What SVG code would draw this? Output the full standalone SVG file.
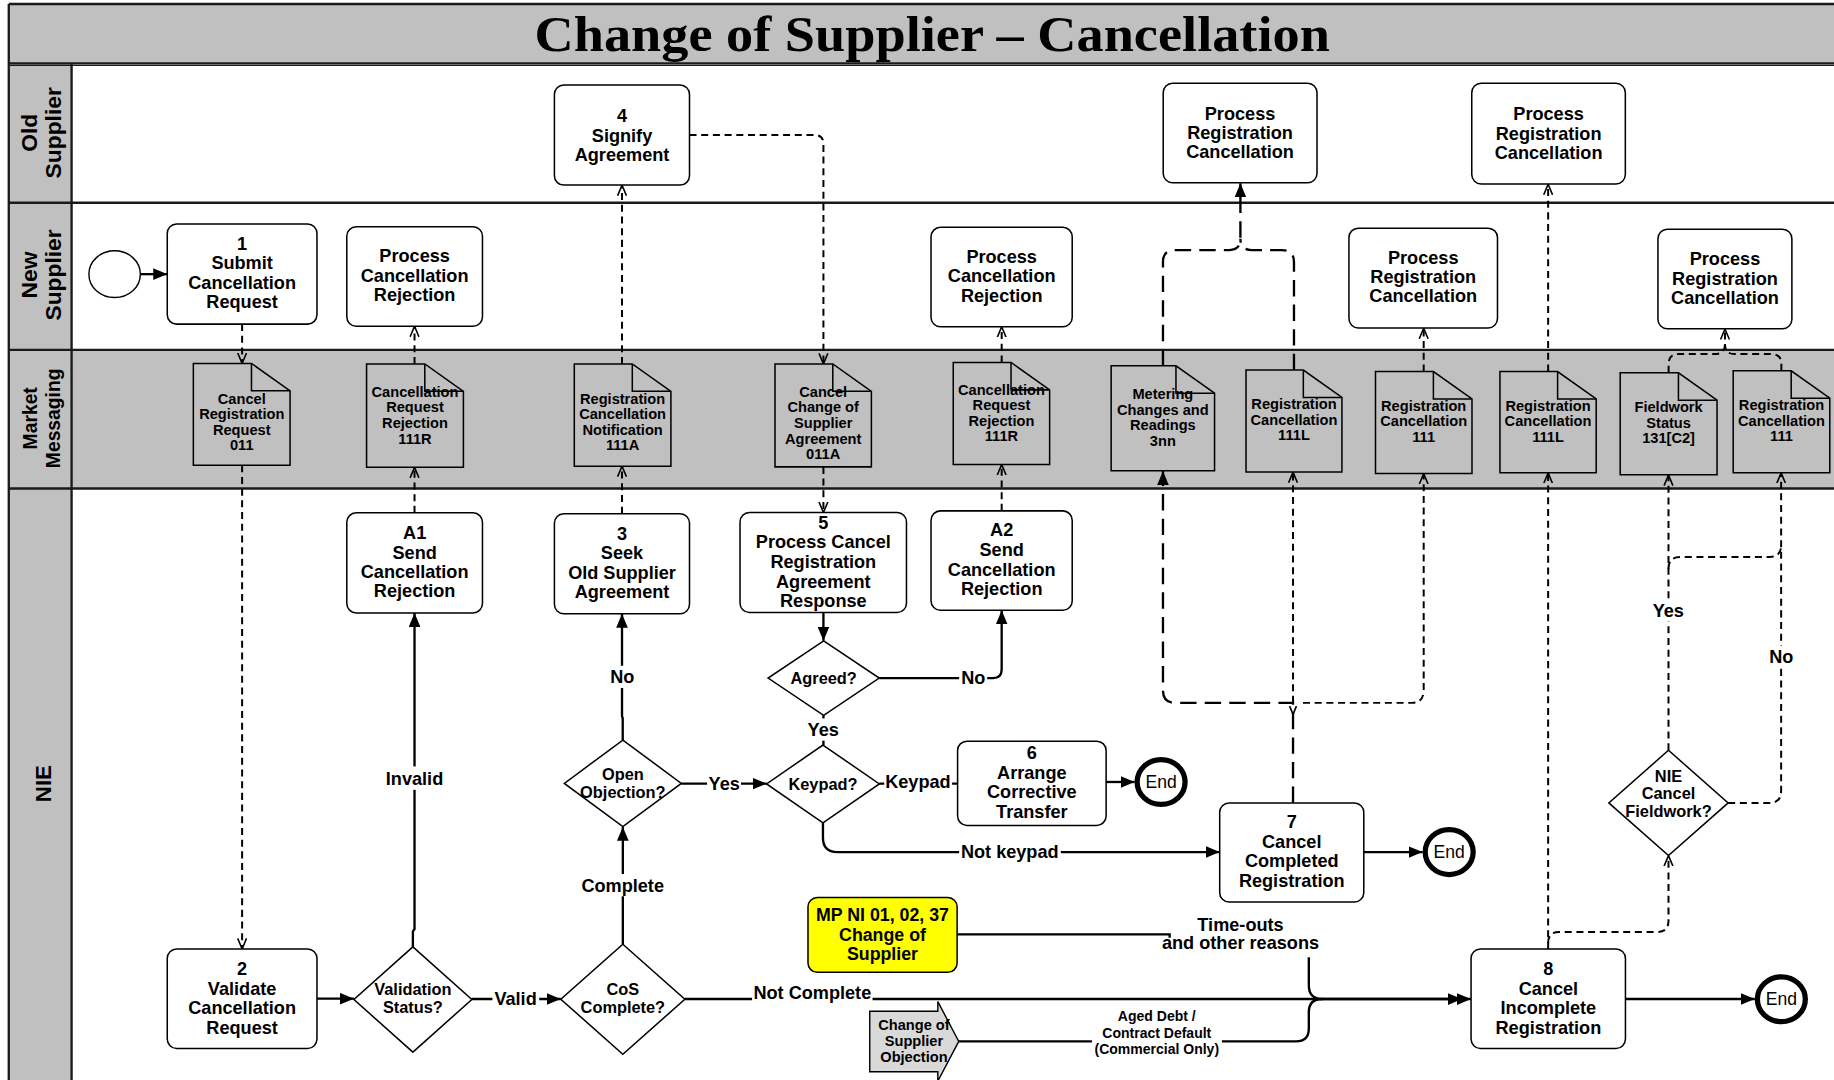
<svg xmlns="http://www.w3.org/2000/svg" width="1834" height="1080" viewBox="0 0 1834 1080">
<defs>
<style>
.tx{font-family:"Liberation Sans",Arial,Helvetica,sans-serif;font-weight:bold;text-anchor:middle;fill:#000}
.f15{font-size:15.5px}
.f14{font-size:14px}
.f12{font-size:12.5px}
.f12b{font-size:12px}
.box{fill:#fff;stroke:#000;stroke-width:1.3}
.doc{fill:#c0c0c0;stroke:#000;stroke-width:1.3}
.fold{fill:none;stroke:#000;stroke-width:1.3}
.dia{fill:#fff;stroke:#000;stroke-width:1.3}
.endc{fill:#fff;stroke:#000;stroke-width:4.5}
.endt{font-family:"Liberation Sans",Arial,sans-serif;font-size:15px;text-anchor:middle;fill:#000}
.sol{fill:none;stroke:#000;stroke-width:2}
.dsh{fill:none;stroke:#000;stroke-width:1.7;stroke-dasharray:6 4}
.ldsh{fill:none;stroke:#000;stroke-width:2;stroke-dasharray:14 7}
.lane{fill:none;stroke:#1a1a1a;stroke-width:2}
.lbg{fill:#fff}
.grey{fill:#c0c0c0}
.ll{font-family:"Liberation Sans",Arial,sans-serif;font-weight:bold;font-size:19.5px;text-anchor:middle;fill:#000}
</style>
<marker id="af" viewBox="0 0 12 10" refX="12" refY="5" markerWidth="12" markerHeight="10" markerUnits="userSpaceOnUse" orient="auto"><path d="M0,0 L12,5 L0,10 Z" fill="#000"/></marker>
<marker id="ao" viewBox="0 0 10 10" refX="10" refY="5" markerWidth="9" markerHeight="9" markerUnits="userSpaceOnUse" orient="auto"><path d="M0,0.8 L10,5 L0,9.2" fill="none" stroke="#000" stroke-width="1.5" stroke-dasharray="none"/></marker>
</defs>
<rect x="0" y="0" width="1834" height="1080" fill="#fff"/>
<g transform="scale(1.16964,1.1701)">
<!-- lanes -->
<g id="lanes">
<rect class="grey" x="7.5" y="3.4" width="1570" height="50.8"/>
<rect class="grey" x="7.5" y="54.2" width="53.7" height="880"/>
<rect class="grey" x="61.2" y="299" width="1520" height="118.5"/>
<path class="lane" d="M7.5,3.4 L1575,3.4 M7.5,54.2 L1575,54.2 M7.5,173.3 L1575,173.3 M7.5,299 L1575,299 M7.5,417.5 L1575,417.5 M7.5,3.4 L7.5,930 M61.2,54.2 L61.2,930"/>
<path d="M7.5,55.8 L1575,55.8" stroke="#1a1a1a" stroke-width="1"/>
<text x="797" y="43.5" font-family="'Liberation Serif','Times New Roman',serif" font-weight="bold" font-size="43" text-anchor="middle" textLength="680" lengthAdjust="spacingAndGlyphs">Change of Supplier – Cancellation</text>
<text class="ll" transform="translate(32,113.5) rotate(-90)">Old</text>
<text class="ll" transform="translate(52,113.5) rotate(-90)">Supplier</text>
<text class="ll" transform="translate(32,235) rotate(-90)">New</text>
<text class="ll" transform="translate(52,235) rotate(-90)">Supplier</text>
<text class="ll" style="font-size:16.5px" transform="translate(32,357.5) rotate(-90)">Market</text>
<text class="ll" style="font-size:16.5px" transform="translate(51,357.5) rotate(-90)">Messaging</text>
<text class="ll" style="font-size:19px" transform="translate(44,669.7) rotate(-90)">NIE</text>
</g>

<!-- connectors -->
<g id="connectors">
<path class="sol" d="M120,234.3 L143,234.3" marker-end="url(#af)"/>
<path class="sol" d="M271,853.5 L302.6,853.5" marker-end="url(#af)"/>
<path class="sol" d="M353,809.3 L353,796 L354.4,794 L354.4,523.8" marker-end="url(#af)"/>
<path class="sol" d="M403.3,853.8 L479.4,853.8" marker-end="url(#af)"/>
<path class="sol" d="M532.5,807 L532.5,706.6" marker-end="url(#af)"/>
<path class="sol" d="M532.4,632.5 L532.4,614 L531.8,612 L531.8,524.5" marker-end="url(#af)"/>
<path class="sol" d="M582.5,669.7 L655.4,669.7" marker-end="url(#af)"/>
<path class="sol" d="M704,523.5 L704,547.7" marker-end="url(#af)"/>
<path class="sol" d="M751.7,579.5 L849,579.5 Q856.4,579.5 856.4,572 L856.4,521.6" marker-end="url(#af)"/>
<path class="sol" d="M704,611.3 L704,636.7"/>
<path class="sol" d="M751.8,669.7 L818.7,669.7"/>
<path class="sol" d="M945.7,668.3 L970,668.3" marker-end="url(#af)"/>
<path class="sol" d="M703.6,703.3 L703.6,716 Q703.6,728.2 715.8,728.2 L1042.8,728.2" marker-end="url(#af)"/>
<path class="sol" d="M1166,728.2 L1216.3,728.2" marker-end="url(#af)"/>
<path class="sol" d="M585.5,853.8 L1257.7,853.8" marker-end="url(#af)"/>
<path class="sol" d="M1130,853.8 L1250,853.8" marker-end="url(#af)"/>
<path class="sol" d="M818.3,798.5 L1000,798.5 L1000,801.5 M1119,818 L1119,842 Q1119,853.8 1130.5,853.8"/>
<path class="sol" d="M819.7,890 L933.6,890 M1044.7,890 L1108,890 Q1119,890 1119,879 L1119,865 Q1119,853.8 1130.5,853.8"/>
<path class="sol" d="M1389.8,853.8 L1500.3,853.8" marker-end="url(#af)"/>

<path class="dsh" d="M207,276.9 L207,310.6" marker-end="url(#ao)"/>
<path class="dsh" d="M207,397.6 L207,811" marker-end="url(#ao)"/>
<path class="dsh" d="M354.4,438.3 L354.4,399.4" marker-end="url(#ao)"/>
<path class="dsh" d="M354.4,311 L354.4,278.8" marker-end="url(#ao)"/>
<path class="dsh" d="M531.8,439 L531.8,398.4" marker-end="url(#ao)"/>
<path class="dsh" d="M531.8,311 L531.8,158.2" marker-end="url(#ao)"/>
<path class="dsh" d="M589.5,115.4 L696.5,115.4 Q704,115.4 704,123 L704,311" marker-end="url(#ao)"/>
<path class="dsh" d="M704,399 L704,438" marker-end="url(#ao)"/>
<path class="dsh" d="M856.4,436.6 L856.4,397" marker-end="url(#ao)"/>
<path class="dsh" d="M856.4,309.8 L856.4,279.3" marker-end="url(#ao)"/>
<path class="ldsh" d="M994.3,312.6 L994.3,224 Q994.3,213.7 1004.5,213.7 L1051,213.7 Q1060.5,213.7 1060.5,204 L1060.5,156.6" marker-end="url(#af)"/>
<path class="ldsh" d="M1106.3,316.3 L1106.3,224 Q1106.3,213.7 1096,213.7 L1070,213.7 Q1060.5,213.7 1060.5,204"/>
<path class="ldsh" d="M1105.5,686.2 L1105.5,600.7 L1005,600.7 Q994.3,600.7 994.3,590 L994.3,402.6" marker-end="url(#af)"/>
<path class="dsh" d="M1105.5,600.7 L1105.5,403.5" marker-end="url(#ao)"/>
<path class="dsh" d="M1114,600.7 L1206.7,600.7 Q1217.2,600.7 1217.2,590 L1217.2,404.8" marker-end="url(#ao)"/>
<path d="M1102.6,603.5 L1105.5,610.5 L1108.4,603.5" fill="none" stroke="#000" stroke-width="1.4"/>
<path class="dsh" d="M1217.2,317.5 L1217.2,280.5" marker-end="url(#ao)"/>
<path class="dsh" d="M1323.6,811 L1323.6,404.2" marker-end="url(#ao)"/>
<path class="dsh" d="M1323.6,317.5 L1323.6,157.5" marker-end="url(#ao)"/>
<path class="dsh" d="M1323.6,806 Q1323.6,796.5 1333,796.5 L1417,796.5 Q1426.5,796.5 1426.5,787 L1426.5,731.2" marker-end="url(#ao)"/>
<path class="dsh" d="M1426.5,641.2 L1426.5,406" marker-end="url(#ao)"/>
<path class="dsh" d="M1426.5,486 Q1426.5,476 1436.5,476 L1513,476 Q1522.8,476 1522.8,466"/>
<path class="dsh" d="M1477.5,686.2 L1513,686.2 Q1522.8,686.2 1522.8,676 L1522.8,404.2" marker-end="url(#ao)"/>
<path class="dsh" d="M1426.6,318.6 L1426.6,311 Q1426.6,302.6 1435,302.6 L1466,302.6 Q1474.8,302.6 1474.8,294 L1474.8,281.2" marker-end="url(#ao)"/>
<path class="dsh" d="M1523,316.9 L1523,311 Q1523,302.6 1514.5,302.6 L1483,302.6 Q1474.8,302.6 1474.8,294"/>

<!-- labels -->
<rect class="lbg" x="327" y="655" width="55" height="20"/>
<text class="tx f15" x="354.4" y="670.5">Invalid</text>
<rect class="lbg" x="421" y="844" width="40" height="19"/>
<text class="tx f15" x="440.8" y="859">Valid</text>
<rect class="lbg" x="496" y="747" width="73" height="19"/>
<text class="tx f15" x="532.4" y="762">Complete</text>
<rect class="lbg" x="520" y="569" width="24" height="19"/>
<text class="tx f15" x="532" y="584">No</text>
<rect class="lbg" x="604.5" y="660" width="29" height="19"/>
<text class="tx f15" x="619.2" y="675.2">Yes</text>
<rect class="lbg" x="820" y="570" width="24" height="19"/>
<text class="tx f15" x="832.2" y="584.5">No</text>
<rect class="lbg" x="689" y="614" width="30" height="19"/>
<text class="tx f15" x="703.8" y="629">Yes</text>
<rect class="lbg" x="756" y="659" width="58" height="19"/>
<text class="tx f15" x="784.8" y="673.5">Keypad</text>
<rect class="lbg" x="820" y="719" width="87" height="19"/>
<text class="tx f15" x="863.3" y="733.5">Not keypad</text>
<rect class="lbg" x="643" y="838" width="103" height="19"/>
<text class="tx f15" x="694.5" y="853.5">Not Complete</text>
<rect class="lbg" x="1411" y="512" width="30" height="19"/>
<text class="tx f15" x="1426.3" y="527.5">Yes</text>
<rect class="lbg" x="1510" y="552" width="26" height="19"/>
<text class="tx f15" x="1522.9" y="567">No</text>
<text class="tx f15" x="1060.6" y="795.4">Time-outs</text>
<text class="tx f15" x="1060.6" y="811.4">and other reasons</text>
<text class="tx f12b" x="989" y="873">Aged Debt /</text>
<text class="tx f12b" x="989" y="887">Contract Default</text>
<text class="tx f12b" x="989" y="900.5">(Commercial Only)</text>
</g>

<!-- nodes -->
<g id="start"><ellipse cx="98" cy="234.3" rx="22" ry="20" fill="#fff" stroke="#000" stroke-width="1.2"/></g>

<g id="n1"><rect class="box" x="143" y="191.5" width="128" height="85.5" rx="8"/>
<text class="tx f15" x="207"><tspan x="207" y="213.4">1</tspan><tspan x="207" y="230">Submit</tspan><tspan x="207" y="246.8">Cancellation</tspan><tspan x="207" y="263.5">Request</tspan></text></g>

<g id="pcr1"><rect class="box" x="296.5" y="193.8" width="116" height="85" rx="8"/>
<text class="tx f15"><tspan x="354.5" y="224">Process</tspan><tspan x="354.5" y="240.8">Cancellation</tspan><tspan x="354.5" y="257.5">Rejection</tspan></text></g>

<g id="n4"><rect class="box" x="474" y="72.7" width="115.5" height="85.5" rx="8"/>
<text class="tx f15"><tspan x="531.8" y="104.6">4</tspan><tspan x="531.8" y="121.3">Signify</tspan><tspan x="531.8" y="138">Agreement</tspan></text></g>

<g id="pcr2"><rect class="box" x="796" y="194.3" width="120.7" height="85" rx="8"/>
<text class="tx f15"><tspan x="856.4" y="224.8">Process</tspan><tspan x="856.4" y="241.4">Cancellation</tspan><tspan x="856.4" y="258">Rejection</tspan></text></g>

<g id="prc-old1"><rect class="box" x="994.5" y="71.2" width="131.5" height="85" rx="8"/>
<text class="tx f15"><tspan x="1060.2" y="102.3">Process</tspan><tspan x="1060.2" y="118.8">Registration</tspan><tspan x="1060.2" y="135.2">Cancellation</tspan></text></g>

<g id="prc-old2"><rect class="box" x="1258.3" y="71.2" width="131.3" height="86" rx="8"/>
<text class="tx f15"><tspan x="1324" y="102.8">Process</tspan><tspan x="1324" y="119.3">Registration</tspan><tspan x="1324" y="135.7">Cancellation</tspan></text></g>

<g id="prc-ns1"><rect class="box" x="1153.3" y="195" width="127" height="85.3" rx="8"/>
<text class="tx f15"><tspan x="1216.8" y="225.4">Process</tspan><tspan x="1216.8" y="241.9">Registration</tspan><tspan x="1216.8" y="258.4">Cancellation</tspan></text></g>

<g id="prc-ns2"><rect class="box" x="1417.5" y="196" width="114.5" height="85" rx="8"/>
<text class="tx f15"><tspan x="1474.8" y="226.6">Process</tspan><tspan x="1474.8" y="243.4">Registration</tspan><tspan x="1474.8" y="260">Cancellation</tspan></text></g>

<!-- documents -->
<g id="doc-011"><path class="doc" d="M165.3,310.6 L215,310.6 L248,334 L248,397.6 L165.3,397.6 Z"/>
<text class="tx f12"><tspan x="206.7" y="344.9">Cancel</tspan><tspan x="206.7" y="358.2">Registration</tspan><tspan x="206.7" y="371.5">Request</tspan><tspan x="206.7" y="384.8">011</tspan></text>
<path class="fold" d="M215,310.6 L215,334 L248,334"/></g>

<g id="doc-111r1"><path class="doc" d="M313.4,311 L363.2,311 L396.2,334.4 L396.2,399.4 L313.4,399.4 Z"/>
<text class="tx f12"><tspan x="354.8" y="339.2">Cancellation</tspan><tspan x="354.8" y="352.5">Request</tspan><tspan x="354.8" y="365.8">Rejection</tspan><tspan x="354.8" y="379.1">111R</tspan></text>
<path class="fold" d="M363.2,311 L363.2,334.4 L396.2,334.4"/></g>

<g id="doc-111a"><path class="doc" d="M491,311 L540.6,311 L573.6,334.4 L573.6,398.4 L491,398.4 Z"/>
<text class="tx f12"><tspan x="532.3" y="344.9">Registration</tspan><tspan x="532.3" y="358.2">Cancellation</tspan><tspan x="532.3" y="371.5">Notification</tspan><tspan x="532.3" y="384.8">111A</tspan></text>
<path class="fold" d="M540.6,311 L540.6,334.4 L573.6,334.4"/></g>

<g id="doc-011a"><path class="doc" d="M662.6,311 L712,311 L745,334.4 L745,399 L662.6,399 Z"/>
<text class="tx f12"><tspan x="703.8" y="339.2">Cancel</tspan><tspan x="703.8" y="352.5">Change of</tspan><tspan x="703.8" y="365.8">Supplier</tspan><tspan x="703.8" y="379.1">Agreement</tspan><tspan x="703.8" y="392.4">011A</tspan></text>
<path class="fold" d="M712,311 L712,334.4 L745,334.4"/></g>

<g id="doc-111r2"><path class="doc" d="M815,309.8 L864.4,309.8 L897.4,333.2 L897.4,397 L815,397 Z"/>
<text class="tx f12"><tspan x="856.2" y="337.2">Cancellation</tspan><tspan x="856.2" y="350.5">Request</tspan><tspan x="856.2" y="363.8">Rejection</tspan><tspan x="856.2" y="377.1">111R</tspan></text>
<path class="fold" d="M864.4,309.8 L864.4,333.2 L897.4,333.2"/></g>

<g id="doc-3nn"><path class="doc" d="M950,312.6 L1005.4,312.6 L1038.4,336 L1038.4,402.4 L950,402.4 Z"/>
<text class="tx f12"><tspan x="994.2" y="341.2">Metering</tspan><tspan x="994.2" y="354.5">Changes and</tspan><tspan x="994.2" y="367.8">Readings</tspan><tspan x="994.2" y="381.1">3nn</tspan></text>
<path class="fold" d="M1005.4,312.6 L1005.4,336 L1038.4,336"/></g>

<g id="doc-111l1"><path class="doc" d="M1065.3,316.3 L1114.3,316.3 L1147.3,339.7 L1147.3,403.3 L1065.3,403.3 Z"/>
<text class="tx f12"><tspan x="1106.3" y="349.8">Registration</tspan><tspan x="1106.3" y="363.1">Cancellation</tspan><tspan x="1106.3" y="376.4">111L</tspan></text>
<path class="fold" d="M1114.3,316.3 L1114.3,339.7 L1147.3,339.7"/></g>

<g id="doc-111-1"><path class="doc" d="M1176,317.5 L1225.5,317.5 L1258.5,340.9 L1258.5,404.6 L1176,404.6 Z"/>
<text class="tx f12"><tspan x="1217.2" y="351">Registration</tspan><tspan x="1217.2" y="364.3">Cancellation</tspan><tspan x="1217.2" y="377.6">111</tspan></text>
<path class="fold" d="M1225.5,317.5 L1225.5,340.9 L1258.5,340.9"/></g>

<g id="doc-111l2"><path class="doc" d="M1282.4,317.5 L1331.7,317.5 L1364.7,340.9 L1364.7,404 L1282.4,404 Z"/>
<text class="tx f12"><tspan x="1323.5" y="351">Registration</tspan><tspan x="1323.5" y="364.3">Cancellation</tspan><tspan x="1323.5" y="377.6">111L</tspan></text>
<path class="fold" d="M1331.7,317.5 L1331.7,340.9 L1364.7,340.9"/></g>

<g id="doc-131"><path class="doc" d="M1385.2,318.6 L1435,318.6 L1468,342 L1468,405.8 L1385.2,405.8 Z"/>
<text class="tx f12"><tspan x="1426.6" y="352.1">Fieldwork</tspan><tspan x="1426.6" y="365.4">Status</tspan><tspan x="1426.6" y="378.7">131[C2]</tspan></text>
<path class="fold" d="M1435,318.6 L1435,342 L1468,342"/></g>

<g id="doc-111-2"><path class="doc" d="M1481.8,316.9 L1531.4,316.9 L1564.4,340.3 L1564.4,404 L1481.8,404 Z"/>
<text class="tx f12"><tspan x="1523.1" y="350.6">Registration</tspan><tspan x="1523.1" y="363.9">Cancellation</tspan><tspan x="1523.1" y="377.2">111</tspan></text>
<path class="fold" d="M1531.4,316.9 L1531.4,340.3 L1564.4,340.3"/></g>

<!-- NIE lane -->
<g id="a1"><rect class="box" x="296.5" y="438.3" width="116" height="85.5" rx="8"/>
<text class="tx f15"><tspan x="354.5" y="460.8">A1</tspan><tspan x="354.5" y="477.4">Send</tspan><tspan x="354.5" y="494">Cancellation</tspan><tspan x="354.5" y="510.6">Rejection</tspan></text></g>

<g id="n3"><rect class="box" x="474" y="439" width="115.5" height="85.5" rx="8"/>
<text class="tx f15"><tspan x="531.8" y="461.4">3</tspan><tspan x="531.8" y="478">Seek</tspan><tspan x="531.8" y="494.6">Old Supplier</tspan><tspan x="531.8" y="511.2">Agreement</tspan></text></g>

<g id="n5"><rect class="box" x="632.7" y="438" width="142.3" height="85.5" rx="8"/>
<text class="tx f15"><tspan x="703.9" y="451.9">5</tspan><tspan x="703.9" y="468.7">Process Cancel</tspan><tspan x="703.9" y="485.5">Registration</tspan><tspan x="703.9" y="502.3">Agreement</tspan><tspan x="703.9" y="519">Response</tspan></text></g>

<g id="a2"><rect class="box" x="796" y="436.6" width="120.7" height="85" rx="8"/>
<text class="tx f15"><tspan x="856.4" y="458.5">A2</tspan><tspan x="856.4" y="475.2">Send</tspan><tspan x="856.4" y="491.9">Cancellation</tspan><tspan x="856.4" y="508.6">Rejection</tspan></text></g>

<g id="agreed"><polygon class="dia" points="704.2,547.7 751.7,579.5 704.2,611.3 656.7,579.5"/>
<text class="tx f14" x="704.2" y="584.4">Agreed?</text></g>

<g id="keypad"><polygon class="dia" points="703.6,636.7 751.8,670 703.6,703.3 655.4,670"/>
<text class="tx f14" x="703.6" y="674.9">Keypad?</text></g>

<g id="open-obj"><polygon class="dia" points="532.5,632.5 582.5,669.5 532.5,706.5 482.5,669.5"/>
<text class="tx f14"><tspan x="532.5" y="666.6">Open</tspan><tspan x="532.5" y="681.7">Objection?</tspan></text></g>

<g id="n6"><rect class="box" x="818.7" y="633.4" width="127" height="72" rx="8"/>
<text class="tx f15"><tspan x="882.2" y="648.9">6</tspan><tspan x="882.2" y="665.8">Arrange</tspan><tspan x="882.2" y="682.3">Corrective</tspan><tspan x="882.2" y="698.7">Transfer</tspan></text></g>

<g id="end6"><ellipse class="endc" cx="992.7" cy="668.3" rx="20.5" ry="19.2"/><text class="endt" x="992.7" y="673.6">End</text></g>

<g id="n7"><rect class="box" x="1042.8" y="686.2" width="123.2" height="84.7" rx="8"/>
<text class="tx f15"><tspan x="1104.4" y="707.9">7</tspan><tspan x="1104.4" y="724.5">Cancel</tspan><tspan x="1104.4" y="741.1">Completed</tspan><tspan x="1104.4" y="757.7">Registration</tspan></text></g>

<g id="end7"><ellipse class="endc" cx="1239" cy="728.2" rx="20.5" ry="19.2"/><text class="endt" x="1239" y="733.5">End</text></g>

<g id="n2"><rect class="box" x="143" y="811" width="128" height="85" rx="8"/>
<text class="tx f15"><tspan x="207" y="833.6">2</tspan><tspan x="207" y="850.2">Validate</tspan><tspan x="207" y="866.8">Cancellation</tspan><tspan x="207" y="883.4">Request</tspan></text></g>

<g id="val-status"><polygon class="dia" points="353,809.2 403.4,854.2 353,899.2 302.6,854.2"/>
<text class="tx f14"><tspan x="353" y="850.4">Validation</tspan><tspan x="353" y="865.5">Status?</tspan></text></g>

<g id="cos-complete"><polygon class="dia" points="532.5,807 585.5,854 532.5,901 479.5,854"/>
<text class="tx f14"><tspan x="532.5" y="850.4">CoS</tspan><tspan x="532.5" y="865.5">Complete?</tspan></text></g>

<g id="mp-box"><rect x="690.8" y="767" width="127.5" height="64" rx="8" fill="#ffff00" stroke="#000" stroke-width="1.3"/>
<text class="tx f15" style="font-size:15.2px"><tspan x="754.5" y="786.7">MP NI 01, 02, 37</tspan><tspan x="754.5" y="803.8">Change of</tspan><tspan x="754.5" y="820.3">Supplier</tspan></text></g>

<g id="cos-objection"><polygon points="743.6,864.3 801.8,864.3 801.8,856 819.7,890 801.8,924 801.8,916 743.6,916" fill="#d9d9d9" stroke="#000" stroke-width="1.2"/>
<text class="tx f12"><tspan x="781.4" y="880.7">Change of</tspan><tspan x="781.4" y="894.1">Supplier</tspan><tspan x="781.4" y="907.2">Objection</tspan></text></g>

<g id="n8"><rect class="box" x="1257.7" y="811" width="132" height="85" rx="8"/>
<text class="tx f15"><tspan x="1323.8" y="833.3">8</tspan><tspan x="1323.8" y="850">Cancel</tspan><tspan x="1323.8" y="866.7">Incomplete</tspan><tspan x="1323.8" y="883.4">Registration</tspan></text></g>

<g id="end8"><ellipse class="endc" cx="1523" cy="854" rx="20.5" ry="19.2"/><text class="endt" x="1523" y="859.3">End</text></g>

<g id="nie-cancel-fw"><polygon class="dia" points="1426.5,641.2 1477.5,686.2 1426.5,731.2 1375.5,686.2"/>
<text class="tx f14"><tspan x="1426.5" y="668.3">NIE</tspan><tspan x="1426.5" y="682.6">Cancel</tspan><tspan x="1426.5" y="697.9">Fieldwork?</tspan></text></g>
</g>
</svg>
